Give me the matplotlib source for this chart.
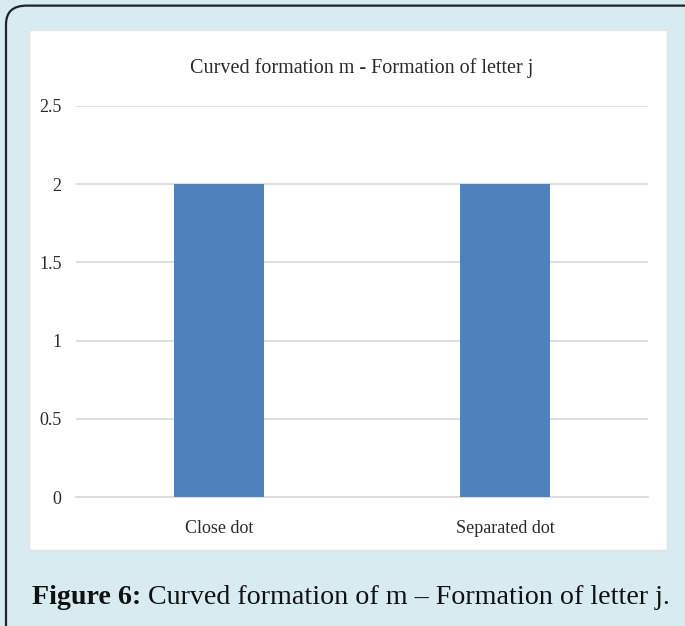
import matplotlib

matplotlib.use("Agg")
import matplotlib.pyplot as plt
from matplotlib.patches import FancyBboxPatch, Rectangle

categories = ["Close dot", "Separated dot"]
counts = [2, 2]
y_ticks = [0, 0.5, 1, 1.5, 2, 2.5]
y_tick_labels = ["0", "0.5", "1", "1.5", "2", "2.5"]
chart_title = "Curved formation m - Formation of letter j"
caption_bold = "Figure 6:"
caption_rest = " Curved formation of m \u2013 Formation of letter j."

W, H = 685, 626
BG = "#d8ebf1"
BAR = "#4f81bd"
GRID = "#d9d9d9"
TEXT = "#2b2b2b"
CHART_FONT = ["Liberation Serif", "DejaVu Serif"]
CAPTION_FONT = ["Liberation Serif", "DejaVu Serif"]


def px(x, y):
    """Pixel coords (origin top-left) -> figure fraction."""
    return x / W, 1 - y / H


fig = plt.figure(figsize=(W / 100, H / 100), dpi=100)
fig.patch.set_facecolor(BG)

# rounded dark frame, right/bottom sides run off the canvas
frame = FancyBboxPatch(
    (6 / W, -40 / H), (W + 40) / W, (H - 5 + 40) / H - 1e-3,
    boxstyle="round,pad=0,rounding_size=0.03",
    transform=fig.transFigure, facecolor=BG, edgecolor="#222222",
    linewidth=1.6, zorder=0,
)
fig.patches.append(frame)

# white chart panel
x0, y0 = px(29, 550)
x1, y1 = px(667, 30)
fig.patches.append(Rectangle(
    (x0, y0), x1 - x0, y1 - y0, transform=fig.transFigure,
    facecolor="white", edgecolor="#e2e2e2", linewidth=1.0, zorder=1,
))

ax_l, ax_b = px(76, 497)
ax_r, ax_t = px(648, 106)
ax = fig.add_axes([ax_l, ax_b, ax_r - ax_l, ax_t - ax_b], zorder=2)
ax.set_facecolor("none")

xs = range(len(categories))
ax.bar(xs, counts, width=0.315, color=BAR, zorder=3)
ax.set_xlim(-0.5, len(categories) - 0.5)
ax.set_ylim(0, 2.5)
ax.set_yticks(y_ticks)
ax.set_yticklabels(y_tick_labels, fontsize=13, family=CHART_FONT, color=TEXT)
ax.set_xticks(list(xs))
ax.set_xticklabels(categories, fontsize=13, family=CHART_FONT, color=TEXT)
ax.tick_params(axis="y", length=0, pad=10.5)
ax.tick_params(axis="x", length=0, pad=16.5)
ax.yaxis.grid(True, color=GRID, linewidth=1.2, zorder=0)
ax.set_axisbelow(True)
for side in ("top", "right", "left"):
    ax.spines[side].set_visible(False)
ax.spines["bottom"].set_color(GRID)
ax.spines["bottom"].set_linewidth(1.2)

tx, ty = px(362, 68)
fig.text(tx, ty, chart_title, ha="center", va="center", fontsize=14.5,
         family=CHART_FONT, color=TEXT, zorder=5)

# caption: bold label followed by regular text
cx, cy = px(32, 597)
t1 = fig.text(cx, cy, caption_bold, ha="left", va="center", fontsize=20.2,
              family=CAPTION_FONT, weight="bold", color="#111111")
fig.canvas.draw()
bb = t1.get_window_extent()
fig.text(bb.x1 / W, cy, caption_rest, ha="left", va="center", fontsize=20.2,
         family=CAPTION_FONT, color="#111111")

fig.savefig("out.png", dpi=100, facecolor=BG)
